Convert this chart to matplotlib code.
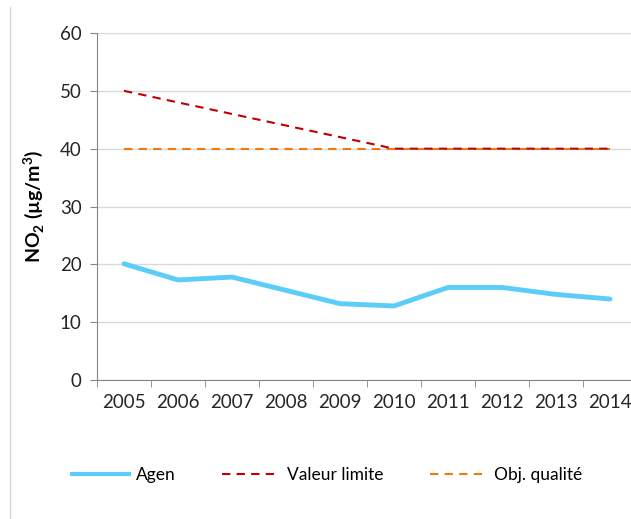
import matplotlib
matplotlib.use("Agg")
import matplotlib.pyplot as plt
from matplotlib.lines import Line2D

# data
years = ["2005", "2006", "2007", "2008", "2009", "2010", "2011", "2012", "2013", "2014"]
agen = [20.1, 17.3, 17.8, 15.5, 13.2, 12.8, 16.0, 16.0, 14.8, 14.0]
valeur_limite = [50, 48, 46, 44, 42, 40, 40, 40, 40, 40]
obj_qualite = [40, 40, 40, 40, 40, 40, 40, 40, 40, 40]

plt.rcParams['font.family'] = ['Lato', 'DejaVu Sans']
plt.rcParams['mathtext.fontset'] = 'custom'
plt.rcParams['mathtext.rm'] = 'Lato'
plt.rcParams['mathtext.bf'] = 'Lato:bold'

fig = plt.figure(figsize=(6.31, 5.19), dpi=100)
ax = fig.add_axes([97 / 631, 139 / 519, 540 / 631, 347 / 519])

x = list(range(len(years)))
ax.plot(x, agen, color='#5BCDF8', lw=3.5, solid_capstyle='round', zorder=3)
ax.plot(x, obj_qualite, color='#EE7A12', lw=1.5, dashes=(4, 3), zorder=2)
ax.plot(x, valeur_limite, color='#C00000', lw=1.5, dashes=(4, 3), zorder=2)

ax.set_xlim(-0.5, 9.5)
ax.set_ylim(0, 60)
ax.set_yticks(range(0, 61, 10))
ax.set_xticks(x)
ax.set_xticklabels(years)
ax.set_xticks([i - 0.5 for i in range(len(years) + 1)], minor=True)

ax.grid(axis='y', color='#D9D9D9', lw=1)
ax.set_axisbelow(True)
for s in ['top', 'right']:
    ax.spines[s].set_visible(False)
for s in ['left', 'bottom']:
    ax.spines[s].set_color('#868686')
ax.tick_params(axis='x', which='major', length=0, pad=10, labelsize=13.5, colors='#262626')
ax.tick_params(axis='x', which='minor', length=5, color='#868686')
ax.tick_params(axis='y', length=5, color='#868686', labelsize=13.5, labelcolor='#262626', pad=6)

ax.set_ylabel(r'NO$_{\mathbf{2}}$ (µg/m$^{\mathbf{3}}$)', fontsize=14, fontweight='bold', labelpad=10)

# legend below the chart
handles = [
    Line2D([], [], color='#5BCDF8', lw=3),
    Line2D([], [], color='#C00000', lw=1.5, dashes=(4, 3)),
    Line2D([], [], color='#EE7A12', lw=1.5, dashes=(4, 3)),
]
fig.legend(handles, ['Agen', 'Valeur limite', 'Obj. qualité'], loc='center',
           bbox_to_anchor=(327 / 631, 1 - 475 / 519), ncol=3, frameon=False,
           fontsize=12.5, handlelength=3.3, columnspacing=2.7, handletextpad=0.4)

# light frame edge on the left
fig.add_artist(Line2D([10 / 631, 10 / 631], [0, 1 - 7 / 519], color='#D9D9D9', lw=1))

fig.savefig('out.png', dpi=100)
